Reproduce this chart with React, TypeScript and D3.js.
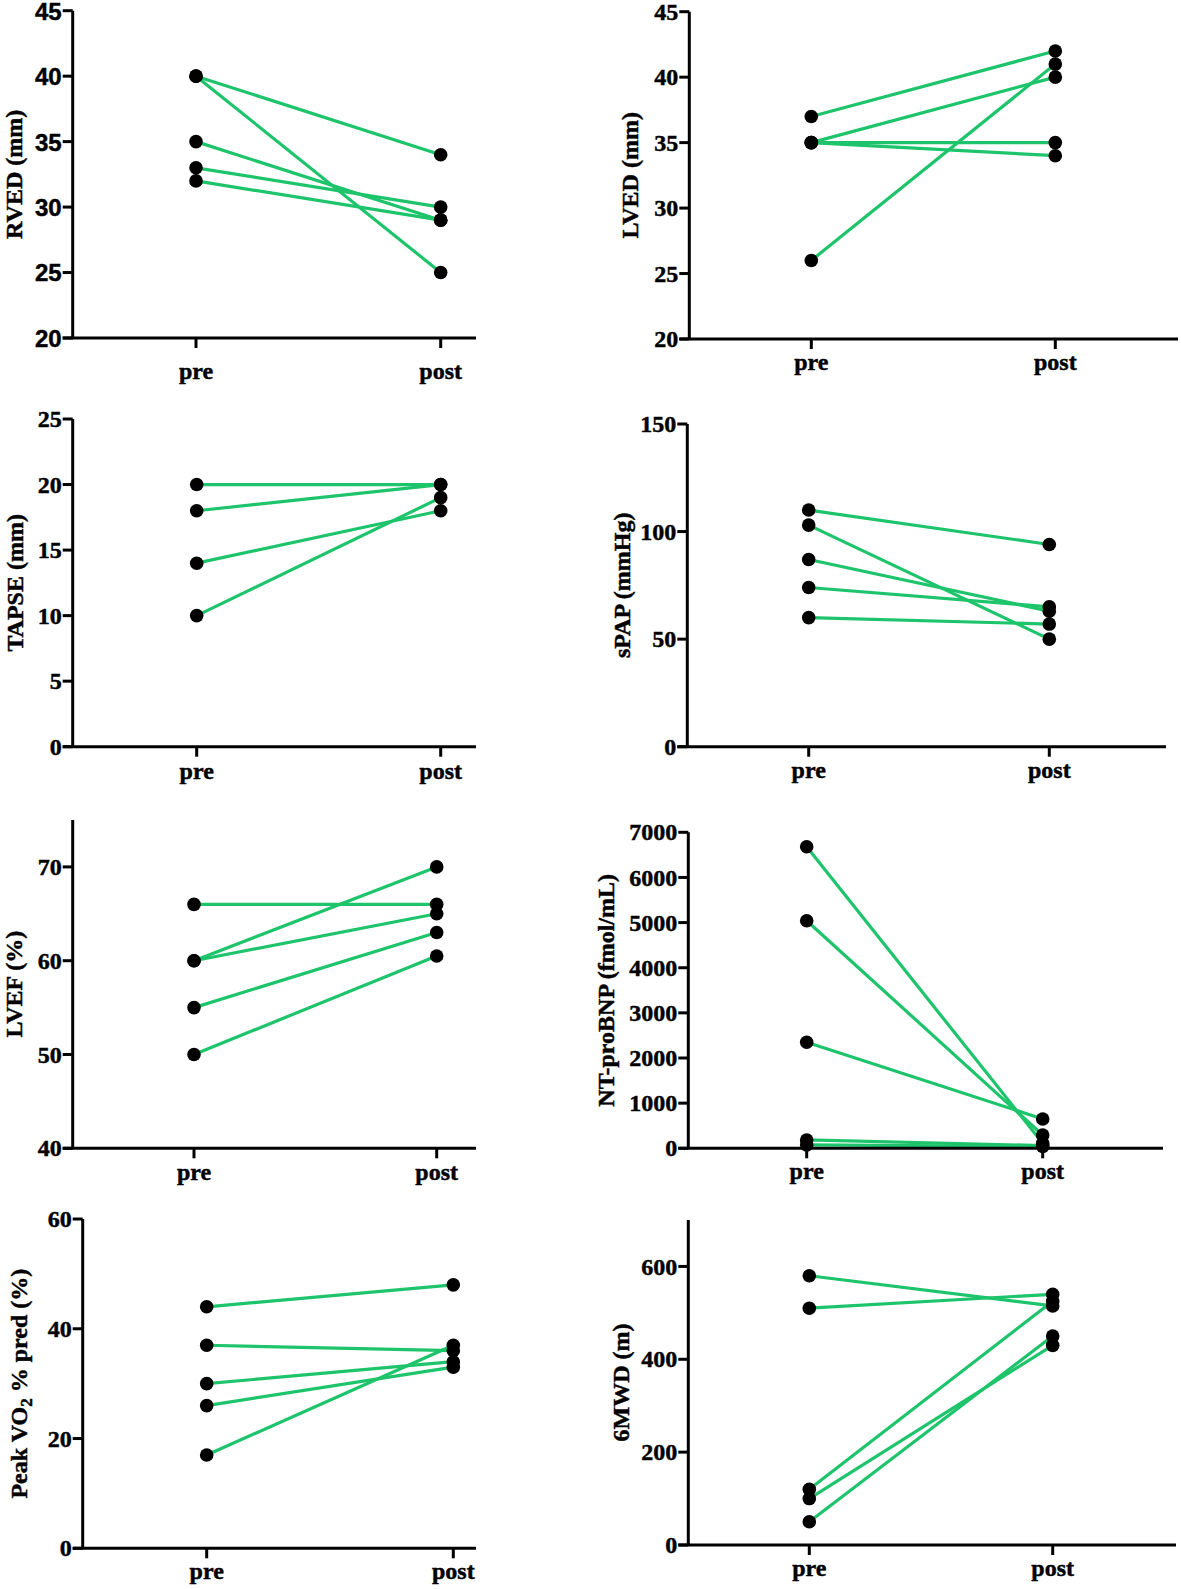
import React from 'react';
import * as d3 from 'd3';

// ---------- data ----------
const groups = ['pre', 'post'];

const rvedPre = [40, 40, 35, 33, 32];
const rvedPost = [34, 25, 29, 30, 29];
const rvedTicks = [20, 25, 30, 35, 40, 45];

const lvedPre = [37, 35, 35, 35, 26];
const lvedPost = [42, 40, 35, 34, 41];
const lvedTicks = [20, 25, 30, 35, 40, 45];

const tapsePre = [20, 18, 14, 10];
const tapsePost = [20, 20, 18, 19];
const tapseTicks = [0, 5, 10, 15, 20, 25];

const spapPre = [110, 103, 87, 74, 60];
const spapPost = [94, 50, 63, 65, 57];
const spapTicks = [0, 50, 100, 150];

const lvefPre = [66, 60, 60, 55, 50];
const lvefPost = [66, 70, 65, 63, 60.5];
const lvefTicks = [40, 50, 60, 70];

const bnpPre = [6680, 5040, 2350, 185, 75];
const bnpPost = [110, 295, 650, 60, 40];
const bnpTicks = [0, 1000, 2000, 3000, 4000, 5000, 6000, 7000];

const vo2Pre = [44, 37, 30, 26, 17];
const vo2Post = [48, 36, 34, 33, 37];
const vo2Ticks = [0, 20, 40, 60];

const mwdPre = [580, 510, 120, 100, 50];
const mwdPost = [515, 540, 525, 430, 450];
const mwdTicks = [0, 200, 400, 600];

// ---------- layout ----------
const SERIF = "'Liberation Serif', 'Times New Roman', serif";
const SANS = "'Liberation Sans', Arial, sans-serif";
const GREEN = '#1ec46b';

type Panel = {
  label: string;
  sub?: string;
  rest?: string;
  pre: number[];
  post: number[];
  domain: [number, number];
  ticks: number[];
  axisX: number;
  yTop: number;
  yBot: number;
  preX: number;
  postX: number;
  xEnd: number;
  labelDx: number;
  xLabelDy: number;
  tickFont: string;
};

const panels: Panel[] = [
  { label: 'RVED (mm)', pre: rvedPre, post: rvedPost, domain: [20, 45], ticks: rvedTicks,
    axisX: 72.7, yTop: 10.7, yBot: 338, preX: 196, postX: 440.7, xEnd: 476, labelDx: -59, xLabelDy: 41, tickFont: SANS },
  { label: 'LVED (mm)', pre: lvedPre, post: lvedPost, domain: [20, 45], ticks: lvedTicks,
    axisX: 689.3, yTop: 11.7, yBot: 339, preX: 811.3, postX: 1055.3, xEnd: 1178, labelDx: -60, xLabelDy: 31, tickFont: SERIF },
  { label: 'TAPSE (mm)', pre: tapsePre, post: tapsePost, domain: [0, 25], ticks: tapseTicks,
    axisX: 72.7, yTop: 419, yBot: 746.7, preX: 196.7, postX: 440.7, xEnd: 476, labelDx: -58, xLabelDy: 32, tickFont: SERIF },
  { label: 'sPAP (mmHg)', pre: spapPre, post: spapPost, domain: [0, 150], ticks: spapTicks,
    axisX: 687.3, yTop: 424, yBot: 746.7, preX: 808.7, postX: 1049.3, xEnd: 1166, labelDx: -66, xLabelDy: 31, tickFont: SERIF },
  { label: 'LVEF (%)', pre: lvefPre, post: lvefPost, domain: [40, 75], ticks: lvefTicks,
    axisX: 72.7, yTop: 820, yBot: 1148.3, preX: 194, postX: 436.7, xEnd: 476, labelDx: -59, xLabelDy: 32, tickFont: SERIF },
  { label: 'NT-proBNP (fmol/mL)', pre: bnpPre, post: bnpPost, domain: [0, 7000], ticks: bnpTicks,
    axisX: 688.3, yTop: 832.3, yBot: 1148.3, preX: 806.7, postX: 1042.7, xEnd: 1163, labelDx: -83, xLabelDy: 31, tickFont: SERIF },
  { label: 'Peak VO', sub: '2', rest: ' % pred (%)', pre: vo2Pre, post: vo2Post, domain: [0, 60], ticks: vo2Ticks,
    axisX: 82.7, yTop: 1219, yBot: 1548.3, preX: 206.7, postX: 453.3, xEnd: 476, labelDx: -64, xLabelDy: 31, tickFont: SERIF },
  { label: '6MWD (m)', pre: mwdPre, post: mwdPost, domain: [0, 700], ticks: mwdTicks,
    axisX: 688.3, yTop: 1220, yBot: 1545, preX: 809.3, postX: 1052.7, xEnd: 1176, labelDx: -68, xLabelDy: 31, tickFont: SERIF },
];

const TICK = 10;
const AXIS_W = 3;
const TXT_STROKE = 0.45;

function PanelView({ p }: { p: Panel }) {
  const y = d3.scaleLinear().domain(p.domain).range([p.yBot, p.yTop]);
  const x = d3.scalePoint<string>().domain(groups).range([p.preX, p.postX]);
  const pairs = d3.zip(p.pre, p.post);
  const line = d3
    .line<[string, number]>()
    .x((d) => x(d[0]) as number)
    .y((d) => y(d[1]));
  const labelY = (y(p.domain[0]) + y(p.domain[1])) / 2;
  const labelX = p.axisX + p.labelDx;

  return (
    <g>
      {pairs.map(([a, b], i) => (
        <path
          key={'l' + i}
          d={line([
            ['pre', a],
            ['post', b],
          ]) as string}
          stroke={GREEN}
          strokeWidth={3.2}
          fill="none"
        />
      ))}
      {pairs.map(([a, b], i) => (
        <g key={'d' + i}>
          <circle cx={x('pre')} cy={y(a)} r={6.8} fill="#000" />
          <circle cx={x('post')} cy={y(b)} r={6.8} fill="#000" />
        </g>
      ))}
      <line x1={p.axisX} x2={p.axisX} y1={y(p.domain[1])} y2={y(p.domain[0])} stroke="#000" strokeWidth={AXIS_W} />
      {p.ticks.map((t) => (
        <g key={'t' + t}>
          <line x1={p.axisX - TICK} x2={p.axisX} y1={y(t)} y2={y(t)} stroke="#000" strokeWidth={AXIS_W} />
          <text
            x={p.axisX - TICK - 1}
            y={y(t)}
            dy={p.tickFont === SANS ? '0.37em' : '0.34em'}
            textAnchor="end"
            fontFamily={p.tickFont}
            fontWeight="bold"
            fontSize={24}
            fill="#000"
            stroke="#000"
            strokeWidth={TXT_STROKE}
          >
            {t}
          </text>
        </g>
      ))}
      <line x1={p.axisX - TICK} x2={p.xEnd} y1={p.yBot} y2={p.yBot} stroke="#000" strokeWidth={AXIS_W} />
      {groups.map((g) => (
        <g key={g}>
          <line x1={x(g)} x2={x(g)} y1={p.yBot} y2={p.yBot + TICK} stroke="#000" strokeWidth={AXIS_W} />
          <text
            x={x(g)}
            y={p.yBot + p.xLabelDy}
            textAnchor="middle"
            fontFamily={SERIF}
            fontWeight="bold"
            fontSize={24}
            fill="#000"
            stroke="#000"
            strokeWidth={TXT_STROKE}
          >
            {g}
          </text>
        </g>
      ))}
      <text
        transform={`translate(${labelX},${labelY}) rotate(-90)`}
        textAnchor="middle"
        dy="0.35em"
        fontFamily={SERIF}
        fontWeight="bold"
        fontSize={24}
        fill="#000"
        stroke="#000"
        strokeWidth={TXT_STROKE}
      >
        {p.label}
        {p.sub ? (
          <tspan dy="0.3em" fontSize={17}>
            {p.sub}
          </tspan>
        ) : null}
        {p.rest ? <tspan dy="-0.21em">{p.rest}</tspan> : null}
      </text>
    </g>
  );
}

export default function App() {
  return (
    <svg
      width={1181}
      height={1589}
      viewBox="0 0 1181 1589"
      style={{ position: 'absolute', left: 0, top: 0, background: '#fff' }}
    >
      <rect x={0} y={0} width={1181} height={1589} fill="#fff" />
      {panels.map((p, i) => (
        <PanelView key={i} p={p} />
      ))}
    </svg>
  );
}
